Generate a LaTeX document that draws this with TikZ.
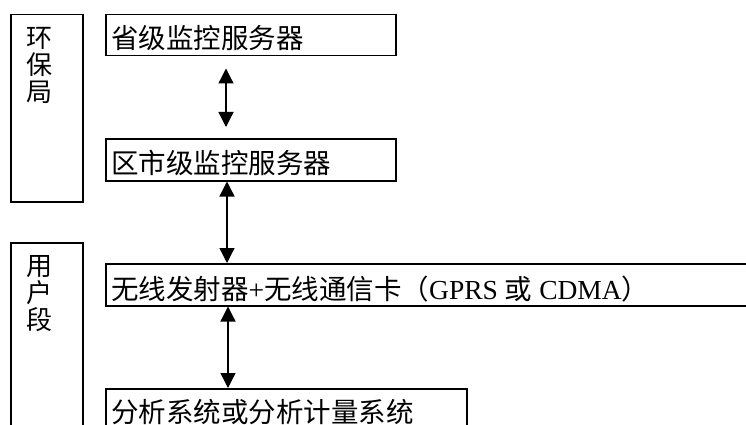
\documentclass[tikz,border=0pt]{standalone}
\usepackage{fontspec}
\setmainfont{Liberation Serif}
\newfontfamily\cjk{Noto Sans CJK SC}
\usetikzlibrary{arrows.meta,calc}
\tikzset{
  box/.style={draw, line width=1.5pt, rectangle, inner sep=0pt, anchor=north west},
  txt/.style={inner sep=0pt, anchor=base west, font=\fontsize{27.5}{27.5}\selectfont},
  vtxt/.style={inner sep=0pt, anchor=north, align=center, font=\cjk\fontsize{26}{27}\selectfont},
  arr/.style={line width=1.3pt, {Triangle[length=15pt,width=15pt]}-{Triangle[length=15pt,width=15pt]}}
}
\begin{document}
\begin{tikzpicture}[x=1pt,y=-1pt]
\clip (0,0) rectangle (746,425);
\fill[white] (0,0) rectangle (746,425);
% left group boxes
\node[box, minimum width=72pt, minimum height=187pt] (hb) at (10,14) {};
\node[vtxt] (hbt) at (40,27) {环\\保\\局};
\node[box, minimum width=72pt, minimum height=200pt] (yh) at (10,242) {};
\node[vtxt] (yht) at (40,255) {用\\户\\段};
% main boxes
\node[box, minimum width=290pt, minimum height=41pt] (b1) at (105,14) {};
\node[txt] (t1) at (111,49) {\cjk 省级监控服务器};
\node[box, minimum width=290pt, minimum height=42pt] (b2) at (105,138) {};
\node[txt] (t2) at (111,173) {\cjk 区市级监控服务器};
\node[box, minimum width=660pt, minimum height=42pt] (b3) at (105,263) {};
\node[txt] (t3) at (111,299) {{\cjk 无线发射器}+{\cjk 无线通信卡（}GPRS {\cjk 或} CDMA{\cjk ）}};
\node[box, minimum width=361pt, minimum height=60pt] (b4) at (105,388) {};
\node[txt] (t4) at (111,422) {\cjk 分析系统或分析计量系统};
% connectors
\draw[arr, shorten <=12pt, shorten >=11pt] ([xshift=121pt]b1.south west) -- ([xshift=121pt]b2.north west);
\draw[arr] ([xshift=122pt]b2.south west) -- ([xshift=122pt]b3.north west);
\draw[arr] ([xshift=123pt]b3.south west) -- ([xshift=123pt]b4.north west);
\end{tikzpicture}
\end{document}
